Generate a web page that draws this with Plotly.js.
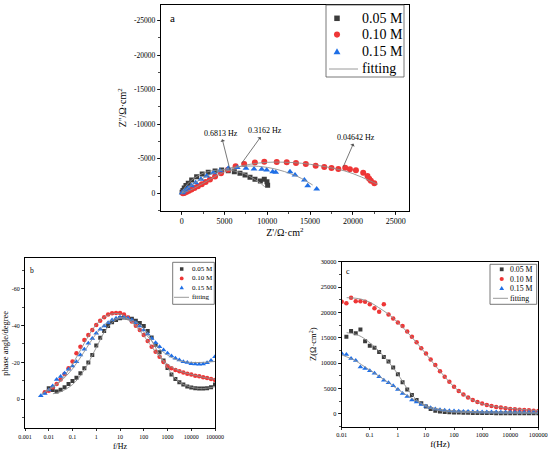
<!DOCTYPE html>
<html>
<head>
<meta charset="utf-8">
<script src="https://cdn.plot.ly/plotly-3.0.1.min.js"></script>
<style>html,body{margin:0;padding:0;background:#fff}#chart{width:550px;height:452px}</style>
</head>
<body>
<div id="chart"></div>
<script>
// ---------------- DATA ----------------
const seriesNames = ['0.05 M', '0.10 M', '0.15 M'];
const fitName = 'fitting';

// Panel a: Nyquist (Z' , Z'')
const nyqRe05 = [50,150,300,500,770,1170,1750,2400,3100,3900,4670,5440,6150,6810,7400,7980,8560,9190,9650,9960,10040];
const nyqIm05 = [-150,-420,-780,-1120,-1450,-1930,-2410,-2800,-3040,-3230,-3380,-3280,-3130,-2900,-2650,-2320,-2030,-1780,-2050,-1680,-1180];
const nyqRe10 = [150,250,400,600,850,1150,1500,1900,2350,2800,3300,3900,4600,5400,6300,7300,8550,9650,11100,12270,13350,14500,15650,16650,17500,18300,19100,19650,20350,21200,21700,21900,22100,22500];
const nyqIm10 = [-20,-60,-130,-230,-370,-540,-760,-1010,-1300,-1620,-1980,-2420,-2900,-3400,-3900,-4250,-4440,-4570,-4540,-4490,-4390,-4250,-4000,-3810,-3670,-3520,-3710,-3470,-3330,-2990,-2510,-2120,-1830,-1450];
const nyqRe15 = [60,190,420,700,1170,1640,2250,2920,3700,4470,5440,6500,7510,8450,9350,9930,10630,10980,12650,13240,14330,14720,15770];
const nyqIm15 = [-80,-230,-450,-720,-1100,-1540,-2030,-2510,-2990,-3280,-3620,-3720,-3620,-3530,-3480,-3380,-3130,-3040,-3130,-2650,-1930,-1100,-620];

const fitRe05 = [0,300,700,1200,1800,2500,3300,4200,5000,5800,6600,7400,8200,9000,9700];
const fitIm05 = [0,-700,-1350,-1950,-2450,-2900,-3200,-3350,-3380,-3300,-3100,-2800,-2250,-1650,-950];
const fitRe10 = [0,1000,2000,3000,4000,5000,6000,7000,8000,9000,10000,11000,12000,13000,14000,15000,16000,17000,18000,19000,20000,21000,22000,22900];
const fitIm10 = [0,-450,-1100,-1800,-2500,-3100,-3600,-3950,-4200,-4380,-4480,-4520,-4500,-4450,-4350,-4200,-4020,-3800,-3550,-3250,-2850,-2350,-1800,-1300];
const fitRe15 = [0,500,1200,2000,3000,4000,5000,6000,7000,8000,9000,10000,11000,12000,13000,14000,15300];
const fitIm15 = [0,-550,-1200,-1850,-2500,-3050,-3450,-3750,-3900,-3950,-3900,-3750,-3500,-3150,-2700,-2150,-1200];

// frequency annotations on panel a
const freqLabels = ['0.6813 Hz', '0.3162 Hz', '0.04642 Hz'];
const freqPtRe = [5640, 7010, 18880];
const freqPtIm = [-3380, -4350, -3855];
const freqTxtRe = [4560, 9730, 20360];
const freqTxtIm = [-8700, -9030, -8060];

// Frequencies (Hz)
const freq = [0.004642,0.006813,0.01,0.01468,0.02154,0.03162,0.04642,0.06813,0.1,0.1468,0.2154,0.3162,0.4642,0.6813,1,1.468,2.154,3.162,4.642,6.813,10,14.68,21.54,31.62,46.42,68.13,100,146.8,215.4,316.2,464.2,681.3,1000,1468,2154,3162,4642,6813,10000,14680,21540,31620,46420,68130,100000];

// Panel b: phase angle (degree)
const fPh05 = freq.slice(2);
const phase05 = [-6.0,-5.0,-4.2,-5.2,-6.5,-8.3,-9.9,-11.7,-14.1,-16.8,-20.0,-24.0,-29.1,-33.4,-37.0,-39.7,-41.7,-43.0,-43.9,-44.3,-44.2,-43.6,-42.6,-41.3,-39.7,-37.0,-33.5,-29.5,-25.5,-21.0,-17.0,-13.5,-11.0,-9.3,-8.0,-7.0,-6.4,-6.0,-5.8,-5.8,-6.0,-6.6,-8.0];
const fPh10 = freq.slice(1);
const phase10 = [-3.8,-4.7,-6.5,-8.3,-10.8,-13.7,-16.8,-20.5,-24.9,-28.5,-32.2,-34.9,-37.6,-40.3,-42.6,-44.4,-45.9,-46.6,-46.8,-46.8,-45.9,-44.3,-42.1,-39.9,-37.6,-34.9,-31.6,-28.5,-25.8,-23.1,-20.2,-18.1,-16.8,-15.9,-15.2,-14.5,-13.9,-13.4,-12.8,-12.5,-11.9,-11.6,-11.0,-10.5];
const fPh15 = freq.slice(0);
const phase15 = [-2.0,-3.2,-5.0,-7.2,-10.8,-12.3,-14.1,-16.3,-18.0,-20.4,-24.0,-27.1,-30.4,-33.0,-35.8,-37.9,-39.7,-41.5,-43.0,-43.9,-44.4,-44.4,-43.9,-43.0,-41.5,-39.7,-37.6,-35.4,-33.0,-30.7,-28.5,-26.7,-24.9,-23.5,-22.2,-21.3,-20.4,-19.9,-19.3,-19.2,-19.0,-19.2,-19.8,-21.0,-23.0];

const fitPhF05 = [0.015,0.03,0.1,0.3,1,3,10,30,100,300,1000,3000,10000,30000,100000];
const fitPh05  = [-3,-4,-8,-15.5,-28,-39,-44,-43,-38.5,-28.5,-17,-9.5,-6.6,-5.8,-6.8];
const fitPhF10 = [0.007,0.01,0.03,0.1,0.3,1,3,10,30,100,300,1000,3000,10000,30000,100000];
const fitPh10  = [-4.5,-5.5,-10,-19,-30,-40.5,-45.5,-46.3,-42,-34.5,-26,-19,-15.5,-13.5,-12,-10.8];
const fitPhF15 = [0.005,0.01,0.03,0.1,0.3,1,3,10,30,100,300,1000,3000,10000,30000,100000];
const fitPh15  = [-3,-5,-9.5,-16.5,-25.5,-35.5,-41.5,-44.2,-42,-36.5,-29.5,-24,-21,-20,-20,-20.5];

// Panel c: |Z| (ohm cm2)
const fZ05 = freq.slice(3);
const modZ05 = [15200,16300,15900,16600,14300,13400,13000,12200,11200,10300,9100,7800,6200,4800,3700,2700,2050,1400,930,600,450,360,300,260,220,200,180,160,150,140,130,120,110,100,100,90,90,80,80,80,70,70];
const fZ10 = freq.slice(2);
const modZ10 = [22100,21800,22900,22200,22200,22100,21600,20800,20100,21600,19600,18800,18000,17300,16200,15200,14100,12900,11900,10700,9600,8400,7300,6300,5300,4500,3800,3200,2700,2300,2000,1700,1500,1300,1200,1060,930,860,800,730,670,600,530];
const fZ15 = freq.slice(2);
const modZ15 = [11900,11700,10900,10500,9200,8900,8500,8000,7300,6600,6100,5500,4800,4000,3400,2700,2300,1800,1450,1150,950,800,700,600,550,500,450,420,400,380,360,340,330,320,310,300,290,290,280,280,270,270,260];

const fitZF05 = [0.015,0.03,0.05,0.1,0.2,0.5,1,2,3,5,10,20,50,100,1000,100000];
const fitZ05  = [16000,15700,15200,14000,12500,10000,7800,5200,3900,2600,1400,800,420,300,150,80];
const fitZF10 = [0.015,0.03,0.05,0.1,0.2,0.5,1,2,5,10,20,50,100,200,500,1000,3000,10000,30000,100000];
const fitZ10  = [22900,22800,22600,22000,21000,19500,18000,16300,13800,11800,9700,7100,5300,3900,2600,1950,1400,1050,820,620];
const fitZF15 = [0.01,0.03,0.05,0.1,0.2,0.5,1,2,5,10,20,50,100,1000,100000];
const fitZ15  = [11600,10500,9700,8600,7500,6000,4800,3700,2400,1600,1100,700,550,380,260];

// Tick labels
const aXTicks = [0,5000,10000,15000,20000,25000];
const aXText = ['0','5000','10000','15000','20000','25000'];
const aYTicks = [-25000,-20000,-15000,-10000,-5000,0];
const aYText = ['-25000','-20000','-15000','-10000','-5000','0'];
const bXTicks = [0.001,0.01,0.1,1,10,100,1000,10000,100000];
const bXText = ['0.001','0.01','0.1','1','10','100','1000','10000','100000'];
const bYTicks = [-60,-40,-20,0];
const bYText = ['-60','-40','-20','0'];
const cXTicks = [0.01,0.1,1,10,100,1000,10000,100000];
const cXText = ['0.01','0.1','1','10','100','1000','10000','100000'];
const cYTicks = [0,5000,10000,15000,20000,25000,30000];
const cYText = ['0','5000','10000','15000','20000','25000','30000'];

// ---------------- STYLE ----------------
const W = 550, H = 452;
const FONT = '"Liberation Serif", "Times New Roman", serif';
const colors = ['#3c3c3c', '#ee3636', '#1f6fe6'];
const symbols = ['square', 'circle', 'triangle-up'];
const fitColor = '#8e8e8e';
const px = x => x / W;
const py = y => 1 - y / H;

const traces = [];
function addSet(xs, ys, fx, fy, axis, msize) {
  for (let i = 0; i < 3; i++) {
    traces.push({x: xs[i], y: ys[i], type: 'scatter', mode: 'markers', name: seriesNames[i],
      xaxis: 'x' + axis, yaxis: 'y' + axis, showlegend: false, cliponaxis: true,
      marker: {symbol: symbols[i], color: colors[i], size: msize[i]}});
  }
  for (let i = 0; i < 3; i++) {
    traces.push({x: fx[i], y: fy[i], type: 'scatter', mode: 'lines', name: fitName,
      xaxis: 'x' + axis, yaxis: 'y' + axis, showlegend: false,
      line: {color: fitColor, width: 0.9, shape: 'spline', smoothing: 1}});
  }
}
addSet([nyqRe05, nyqRe10, nyqRe15], [nyqIm05, nyqIm10, nyqIm15],
       [fitRe05, fitRe10, fitRe15], [fitIm05, fitIm10, fitIm15], '', [5, 6, 6]);
addSet([fPh05, fPh10, fPh15], [phase05, phase10, phase15],
       [fitPhF05, fitPhF10, fitPhF15], [fitPh05, fitPh10, fitPh15], '2', [4, 4.5, 5]);
addSet([fZ05, fZ10, fZ15], [modZ05, modZ10, modZ15],
       [fitZF05, fitZF10, fitZF15], [fitZ05, fitZ10, fitZ15], '3', [4, 4.5, 5]);

function axisBase(extra) {
  return Object.assign({
    showline: true, linecolor: '#000', linewidth: 1, mirror: true,
    ticks: 'outside', ticklen: 3, tickwidth: 0.8, tickcolor: '#000',
    showgrid: false, zeroline: false, automargin: false,
    tickfont: {family: FONT, size: 7.5, color: '#000'}
  }, extra);
}
const minorLin = d => ({tickmode: 'linear', tick0: 0, dtick: d, ticklen: 2, tickwidth: 0.7, tickcolor: '#000', showgrid: false});

const layout = {
  width: W, height: H, margin: {l: 0, r: 0, t: 0, b: 0},
  paper_bgcolor: '#fff', plot_bgcolor: '#fff', showlegend: false,
  font: {family: FONT, color: '#000'},
  xaxis: axisBase({domain: [px(160.7), px(409)], range: [-2450, 26550], tickmode: 'array', tickvals: aXTicks, ticktext: aXText,
    minor: minorLin(2500), tickfont: {family: FONT, size: 8, color: '#000'},
    title: {text: "Z'/Ω·cm<sup>2</sup>", font: {family: FONT, size: 10, color: '#000'}, standoff: 2}, anchor: 'y'}),
  yaxis: axisBase({domain: [py(210.7), py(4.7)], range: [2520, -27300], tickmode: 'array', tickvals: aYTicks, ticktext: aYText,
    minor: minorLin(2500), tickfont: {family: FONT, size: 7.5, color: '#000'},
    title: {text: "Z''/Ω·cm<sup>2</sup>", font: {family: FONT, size: 10, color: '#000'}, standoff: 5}, anchor: 'x'}),
  xaxis2: axisBase({domain: [px(25), px(215)], type: 'log', range: [-3, 5], tickmode: 'array', tickvals: bXTicks, ticktext: bXText,
    tickfont: {family: FONT, size: 6, color: '#000'}, ticklen: 2,
    title: {text: 'f/Hz', font: {family: FONT, size: 8, color: '#000'}, standoff: 4}, anchor: 'y2'}),
  yaxis2: axisBase({domain: [py(428.3), py(258.3)], range: [15.7, -76.4], tickmode: 'array', tickvals: bYTicks, ticktext: bYText,
    minor: minorLin(10), tickfont: {family: FONT, size: 6, color: '#000'},
    title: {text: 'phase angle/degree', font: {family: FONT, size: 8.5, color: '#000'}, standoff: 2}, anchor: 'x2'}),
  xaxis3: axisBase({domain: [px(341.7), px(538.3)], type: 'log', range: [-2, 5], tickmode: 'array', tickvals: cXTicks, ticktext: cXText,
    tickfont: {family: FONT, size: 6.3, color: '#000'}, ticklen: 2,
    title: {text: 'f(Hz)', font: {family: FONT, size: 9, color: '#000'}, standoff: 3}, anchor: 'y3'}),
  yaxis3: axisBase({domain: [py(426.7), py(261.7)], range: [-2566, 30000], tickmode: 'array', tickvals: cYTicks, ticktext: cYText,
    minor: minorLin(2500), tickfont: {family: FONT, size: 6.3, color: '#000'},
    title: {text: 'Z(Ω·cm<sup>2</sup>)', font: {family: FONT, size: 8.5, color: '#000'}, standoff: 2}, anchor: 'x3'}),
  annotations: [],
  shapes: []
};

// panel letters
[['a', 172, 18, 11], ['b', 31.7, 270.7, 7.5], ['c', 347.7, 271.7, 8]].forEach(p => {
  layout.annotations.push({text: p[0], xref: 'paper', yref: 'paper', x: px(p[1]), y: py(p[2]),
    xanchor: 'center', yanchor: 'middle', showarrow: false, font: {family: FONT, size: p[3], color: '#000000'}});
});

// frequency annotations with arrows (panel a)
for (let i = 0; i < freqLabels.length; i++) {
  layout.annotations.push({text: freqLabels[i], xref: 'x', yref: 'y', x: freqPtRe[i], y: freqPtIm[i],
    axref: 'x', ayref: 'y', ax: freqTxtRe[i], ay: freqTxtIm[i], showarrow: true,
    arrowside: 'start', arrowhead: 2, arrowsize: 1, arrowwidth: 0.8, arrowcolor: '#555555',
    bgcolor: 'rgba(0,0,0,0)', font: {family: FONT, size: 8, color: '#000000'}});
}

// legends (drawn as shapes + text)
function drawLegend(cfg) {
  layout.shapes.push({type: 'rect', xref: 'paper', yref: 'paper', x0: px(cfg.box[0]), x1: px(cfg.box[2]),
    y0: py(cfg.box[3]), y1: py(cfg.box[1]), line: {color: '#555', width: 0.8}, fillcolor: 'rgba(255,255,255,0)'});
  const labels = seriesNames.concat([fitName]);
  for (let i = 0; i < 4; i++) {
    const ry = cfg.rows[i], mx = cfg.mx, s = cfg.ms / 2;
    if (i === 0) {
      layout.shapes.push({type: 'rect', xref: 'paper', yref: 'paper', x0: px(mx - s), x1: px(mx + s), y0: py(ry + s), y1: py(ry - s),
        line: {width: 0}, fillcolor: colors[0]});
    } else if (i === 1) {
      layout.shapes.push({type: 'circle', xref: 'paper', yref: 'paper', x0: px(mx - s * 1.1), x1: px(mx + s * 1.1), y0: py(ry + s * 1.1), y1: py(ry - s * 1.1),
        line: {width: 0}, fillcolor: colors[1]});
    } else if (i === 2) {
      const t = s * 1.25;
      layout.shapes.push({type: 'path', xref: 'paper', yref: 'paper',
        path: `M ${px(mx)},${py(ry - t)} L ${px(mx + t)},${py(ry + t * 0.75)} L ${px(mx - t)},${py(ry + t * 0.75)} Z`,
        line: {width: 0}, fillcolor: colors[2]});
    } else {
      layout.shapes.push({type: 'line', xref: 'paper', yref: 'paper', x0: px(cfg.lx[0]), x1: px(cfg.lx[1]), y0: py(ry), y1: py(ry),
        line: {color: fitColor, width: 0.9}});
    }
    layout.annotations.push({text: labels[i], xref: 'paper', yref: 'paper', x: px(cfg.tx), y: py(ry),
      xanchor: 'left', yanchor: 'middle', showarrow: false, borderpad: 0,
      font: {family: FONT, size: cfg.fs, color: '#000000'}});
  }
}
drawLegend({box: [326, 5, 404, 77], rows: [18.3, 34.6, 51.7, 69], mx: 337, ms: 5.5, lx: [329, 358], tx: 361, fs: 14});
drawLegend({box: [172.7, 262.3, 214.3, 304.3], rows: [269, 278.4, 287.7, 297.3], mx: 181.7, ms: 3.5, lx: [174, 189], tx: 190.5, fs: 7});
drawLegend({box: [490, 264.3, 536.7, 304.3], rows: [269.3, 279, 288.3, 298.3], mx: 501.7, ms: 3.8, lx: [493, 508], tx: 509, fs: 7.8});

Plotly.newPlot('chart', traces, layout, {staticPlot: true, displayModeBar: false});
</script>
</body>
</html>
